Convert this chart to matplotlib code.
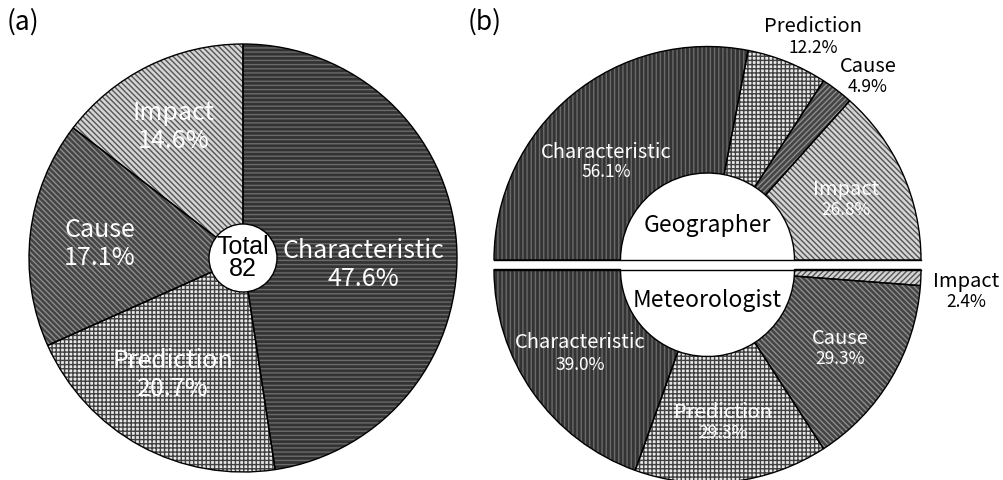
import matplotlib.pyplot as plt
from matplotlib.patches import Circle

# survey of 82 responses, split by profession
categories = ["Characteristic", "Prediction", "Cause", "Impact"]
total_pct = [47.6, 20.7, 17.1, 14.6]
total_n = 82
geo_pct = [56.1, 12.2, 4.9, 26.8]
met_pct = [39.0, 29.3, 29.3, 2.4]

W, H = 1004, 481
LABEL_FONT = ["Noto Sans CJK JP", "DejaVu Sans"]

# fill / hatch colour per category
face = {"Characteristic": "#333333", "Prediction": "#e8e8e8",
        "Cause": "#444444", "Impact": "#d4d4d4"}
hcol = {"Characteristic": "#6a6a6a", "Prediction": "#404040",
        "Cause": "#8c8c8c", "Impact": "#555555"}

plt.rcParams["hatch.linewidth"] = 1.0

fig = plt.figure(figsize=(W / 100, H / 100), dpi=100)
ax = fig.add_axes([0, 0, 1, 1])


def py(y):
    # pixel row (from top) -> data y
    return H - y


def draw_pie(values, center, radius, hatches, start, ccw, width=None, half=False):
    vals = list(values)
    if half:
        vals = vals + [sum(values)]
    wp = dict(linewidth=0)
    if width:
        wp["width"] = width
    wedges, _ = ax.pie(vals, center=center, radius=radius, startangle=start,
                       counterclock=ccw, wedgeprops=wp, frame=True)
    for w, cat, h in zip(wedges, categories, hatches):
        w.set_facecolor(face[cat])
        w.set_edgecolor(hcol[cat])
        w.set_hatch(h)
    # black outlines on top of the hatched fills
    wp2 = dict(fill=False, edgecolor="black", linewidth=1.0)
    if width:
        wp2["width"] = width
    outl, _ = ax.pie(vals, center=center, radius=radius, startangle=start,
                     counterclock=ccw, wedgeprops=wp2, frame=True)
    if half:
        wedges[-1].set_visible(False)
        outl[-1].set_visible(False)
    return wedges


def label(x, y, name, pct, size, psize, color="white", gap=None):
    gap = gap if gap is not None else size * 1.35
    ax.text(x, py(y), name, ha="center", va="center", fontsize=size,
            color=color, family=LABEL_FONT)
    ax.text(x, py(y + gap), f"{pct:.1f}%", ha="center", va="center",
            fontsize=psize, color=color, family=LABEL_FONT)


# (a) all respondents
ca = (243, py(259))
draw_pie(total_pct, ca, 214, ["----", "++++", "\\\\\\\\\\\\", "\\\\\\\\\\\\"],
         start=90, ccw=False)
ax.add_patch(Circle(ca, 34, facecolor="white", edgecolor="black", lw=1.0, zorder=5))
ax.text(ca[0], ca[1] + 1, f"Total\n{total_n}", ha="center", va="center",
        fontsize=18, family="Liberation Sans", linespacing=0.92, zorder=6)

label(363, 251, categories[0], total_pct[0], 18, 18, gap=28)
label(173, 361, categories[1], total_pct[1], 18, 18, gap=28)
label(100, 230, categories[2], total_pct[2], 18, 18, gap=28)
label(174, 113, categories[3], total_pct[3], 18, 18, gap=28)

# (b) geographers (upper half) vs meteorologists (lower half)
cx, r_out, r_in = 707.5, 213.5, 87
cg = (cx, py(261))
cm = (cx, py(270.5))
draw_pie(geo_pct, cg, r_out, ["||||", "++++", "//////", "\\\\\\\\\\\\"],
         start=180, ccw=False, width=r_out - r_in, half=True)
draw_pie(met_pct, cm, r_out, ["||||", "++++", "\\\\\\\\\\\\", "//////"],
         start=180, ccw=True, width=r_out - r_in, half=True)
for c in (cg, cm):
    ax.plot([cx - r_out, cx + r_out], [c[1], c[1]], color="black", lw=1.0)

ax.text(cx, py(226), "Geographer", ha="center", va="center", fontsize=16.5,
        family=LABEL_FONT)
ax.text(cx, py(301), "Meteorologist", ha="center", va="center", fontsize=16.5,
        family=LABEL_FONT)

label(606, 152, categories[0], geo_pct[0], 14.5, 12.5, gap=20)
label(813, 27, categories[1], geo_pct[1], 14.5, 12.5, color="black", gap=21)
label(868, 67, categories[2], geo_pct[2], 14.5, 12.5, color="black", gap=20)
label(846, 190, categories[3], geo_pct[3], 14.5, 12.5, gap=20)

label(580, 343, categories[0], met_pct[0], 14.5, 12.5, gap=22)
label(723, 413, categories[1], met_pct[1], 14.5, 12.5, gap=20)
label(840, 339, categories[2], met_pct[2], 14.5, 12.5, gap=20)
label(966, 282, categories[3], met_pct[3], 14.5, 12.5, color="black", gap=20)

ax.text(7, py(22), "(a)", ha="left", va="center", fontsize=19, family=LABEL_FONT)
ax.text(468, py(22), "(b)", ha="left", va="center", fontsize=19, family=LABEL_FONT)

ax.set_xlim(0, W)
ax.set_ylim(0, H)
ax.set_aspect("auto")
ax.axis("off")

fig.savefig("out.png", dpi=100)
